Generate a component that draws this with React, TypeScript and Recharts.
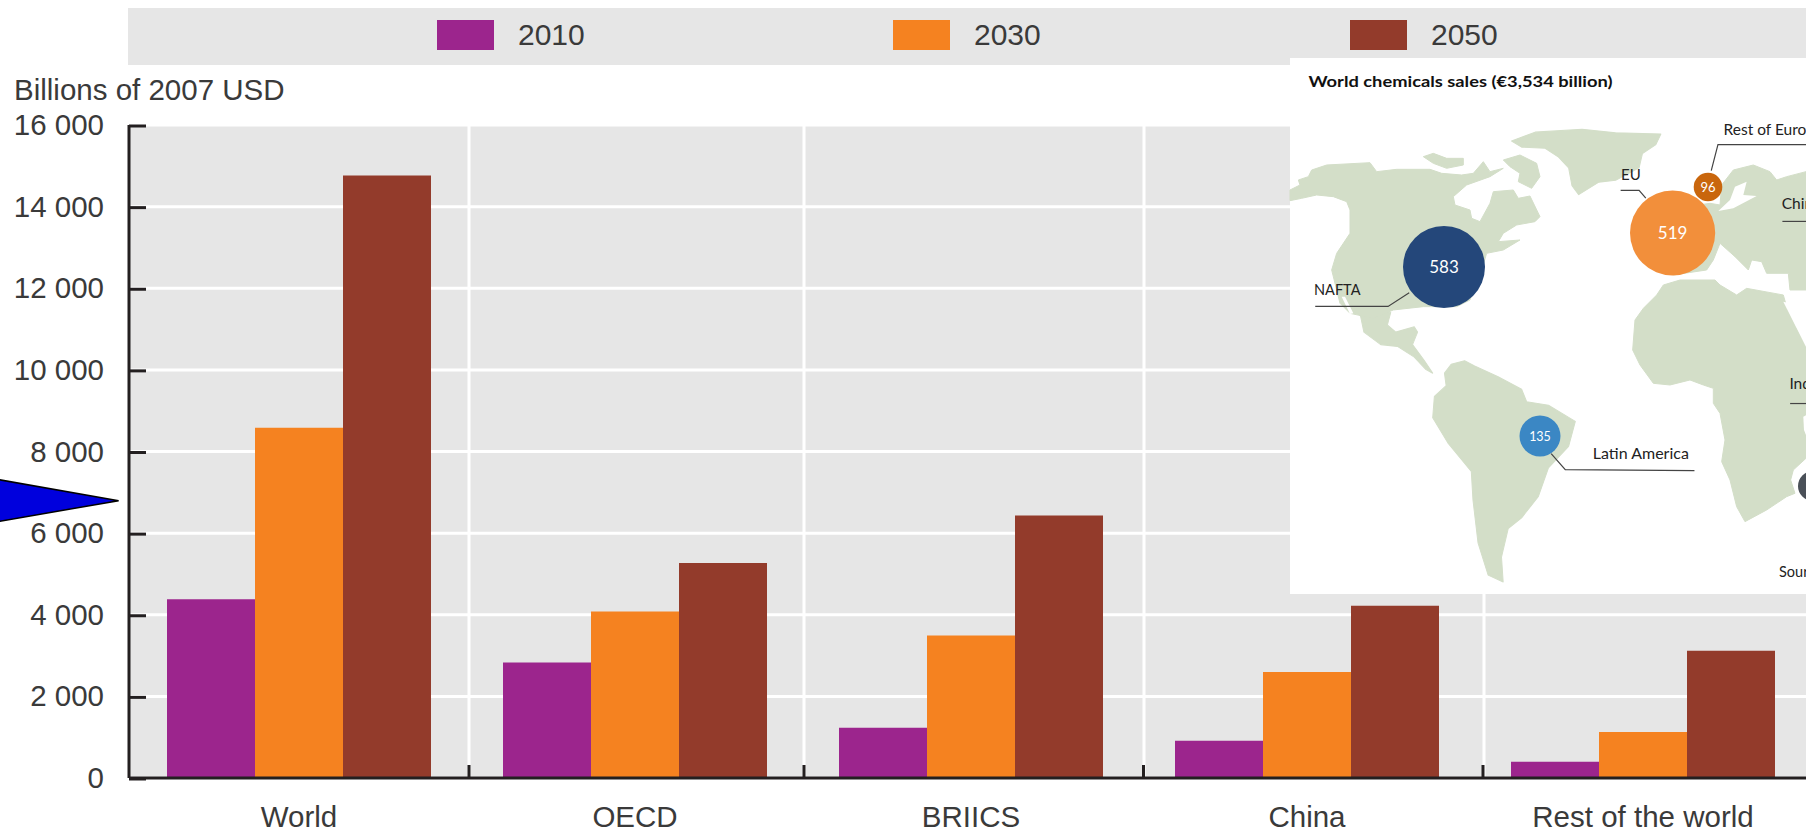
import React from "react";
import { BarChart, Bar, XAxis, YAxis, CartesianGrid, Legend } from "recharts";

const categories = ["World", "OECD", "BRIICS", "China", "Rest of the world"];
const values2010 = [4380, 2830, 1230, 915, 400];
const values2030 = [8580, 4080, 3490, 2600, 1130];
const values2050 = [14760, 5270, 6430, 4220, 3120];
const yTicks = [0, 2000, 4000, 6000, 8000, 10000, 12000, 14000, 16000];
const seriesNames = ["2010", "2030", "2050"];
const seriesColors = ["#9C258D", "#F58220", "#933B2B"];

const rows = categories.map((name, i) => ({
  name,
  "2010": values2010[i],
  "2030": values2030[i],
  "2050": values2050[i],
}));

// layout of the chart
const separators = [469, 804, 1144, 1484];
const separatorOffsets = [170, 169, 172.5, 176];
const legendLefts = [309, 765, 1222];
const font = "'Liberation Sans', Arial, sans-serif";
const inkColor = "#3A3A3A";

const fmt = (v: number) => (v === 0 ? "0" : String(v).replace(/(\d)(?=(\d{3})$)/, "$1 "));

const YTick = (p: any) => (
  <g>
    <line x1={p.x + 25} x2={p.x + 42} y1={p.y + 1} y2={p.y + 1} stroke="#231F20" strokeWidth={3} />
    <text x={p.x} y={p.y + 10} textAnchor="end" fontFamily={font} fontSize={29.5} fill={inkColor}>
      {fmt(p.payload.value)}
    </text>
  </g>
);

const XTick = (p: any) => {
  const off = separatorOffsets[p.index];
  return (
    <g>
      {off !== undefined && (
        <line x1={p.x + off} x2={p.x + off} y1={p.y - 13} y2={p.y} stroke="#231F20" strokeWidth={3} />
      )}
      <text x={p.x} y={p.y + 49} textAnchor="middle" fontFamily={font} fontSize={29.5} fill={inkColor}>
        {p.payload.value}
      </text>
    </g>
  );
};

const LegendBand = (p: any) => (
  <div style={{ position: "relative", width: 1700, height: 57, background: "#E6E6E6" }}>
    {(p.payload || []).map((e: any, i: number) => (
      <React.Fragment key={e.value}>
        <div
          style={{ position: "absolute", left: legendLefts[i], top: 12, width: 57, height: 30, background: e.color }}
        />
        <div
          style={{
            position: "absolute",
            left: legendLefts[i] + 81,
            top: 9,
            fontFamily: font,
            fontSize: 30,
            lineHeight: "36px",
            color: inkColor,
          }}
        >
          {e.value}
        </div>
      </React.Fragment>
    ))}
  </div>
);

// inset map: outlines traced on a few local grids, each placed on the page by a transform
const landColor = "#D3DEC8";
const mapGroups = [
  {
    transform: "translate(1280,50) scale(0.3356,0.3571)",
    land: [
      "200,690 260,720 330,735 320,770 345,790 400,775 410,790 395,825 430,870 455,905 435,895 400,860 350,830 300,825 250,790 240,745 215,720",
      "690,255 760,230 900,222 1000,232 1135,235 1120,265 1080,290 1070,330 1000,365 950,370 890,405 870,380 860,330 830,300 790,275 720,272",
      "490,905 510,880 550,870 580,885 650,915 720,950 735,985 800,995 880,1040 860,1110 800,1170 770,1250 720,1310 680,1340 660,1420 665,1490 620,1470 590,1380 575,1260 570,1180 500,1100 455,1030 460,970 495,940",
    ],
    water: [],
  },
  {
    transform: "translate(1290,110) scale(0.3333)",
    land: [
      "0,240 30,225 25,210 55,200 65,180 110,165 240,158 260,185 320,178 420,178 455,190 515,195 550,190 580,155 600,185 640,175 600,200 530,225 490,260 495,285 540,300 545,325 570,335 600,280 610,245 670,240 685,265 720,258 750,320 735,335 680,345 640,370 625,395 690,390 640,420 590,430 575,480 560,520 540,570 500,590 400,590 310,600 250,625 180,610 150,580 125,480 140,430 180,370 180,300 170,275 130,260 80,255 35,265 0,272",
      "640,150 690,135 740,160 750,200 725,235 685,215 690,190 660,170",
      "400,140 430,130 470,145 520,145 520,165 470,175 430,160",
    ],
    water: ["155,560 165,560 190,610 180,612"],
  },
  {
    transform: "translate(1620,280) scale(0.3333)",
    land: [
      "130,15 180,0 285,0 300,15 350,45 380,25 490,45 500,80 558,200 558,535 520,570 512,600 525,640 500,650 440,690 375,725 350,680 330,600 305,545 315,480 300,400 280,370 280,325 250,315 210,300 150,315 100,310 60,255 38,210 45,120 70,85 110,45",
    ],
    water: ["490,65 510,70 558,150 558,200", "550,410 560,405 560,470 552,450"],
  },
  {
    transform: "translate(1620,110) scale(0.3333)",
    land: [
      "558,185 558,540 510,540 505,490 440,490 425,455 395,450 385,480 345,440 300,400 280,450 260,480 160,495 100,400 200,290 270,280 300,285 305,225 340,180 400,165 450,185 470,210 500,200",
    ],
    water: ["345,230 380,215 370,255 410,258 340,295 295,303 330,270"],
  },
];
const leaders = [
  "105,718 322,718 385,680",
  "1015,393 1070,393 1090,415",
  "1285,338 1305,265 1568,265",
  "1497,480 1568,480",
  "1520,990 1568,990",
  "808,1130 850,1175 1235,1178",
];
const bubbles = [
  { x: 1444, y: 267, r: 41, color: "#24477A", label: "583", size: 17 },
  { x: 1672.6, y: 233, r: 42.6, color: "#F28F3B", label: "519", size: 17 },
  { x: 1708, y: 187, r: 14.3, color: "#C9660D", label: "96", size: 13 },
  { x: 1540, y: 436, r: 20.5, color: "#3B87C4", label: "135", size: 12.5 },
  { x: 1813, y: 486, r: 15, color: "#4A5058", label: "", size: 11 },
];
const mapLabels = [
  { x: 1314, y: 294.5, t: "NAFTA", s: 14.5 },
  { x: 1621, y: 180, t: "EU", s: 15 },
  { x: 1723.6, y: 135, t: "Rest of Europe", s: 15.5 },
  { x: 1781.7, y: 209, t: "China", s: 15.5 },
  { x: 1789.4, y: 389, t: "India", s: 15.5 },
  { x: 1592.8, y: 459, t: "Latin America", s: 16 },
  { x: 1779, y: 577, t: "Source", s: 14.5 },
];
const mapFont = "Lato, 'Open Sans', sans-serif";

const Overlay = () => (
  <svg width={1806} height={832} style={{ position: "absolute", left: 0, top: 0 }}>
    <text x={14} y={100} fontFamily={font} fontSize={29.5} fill={inkColor}>
      Billions of 2007 USD
    </text>
    <polygon points="-5,479 118.6,500.7 -5,522" fill="#0000DD" stroke="#000" strokeWidth={1.5} />
    <rect x={1290} y={58} width={516} height={536} fill="#fff" />
    {mapGroups.map((g, gi) => (
      <g key={gi} transform={g.transform}>
        {g.land.map((pts, i) => (
          <polygon key={i} points={pts} fill={landColor} stroke={landColor} strokeWidth={3} strokeLinejoin="round" />
        ))}
        {g.water.map((pts, i) => (
          <polygon key={i} points={pts} fill="#fff" />
        ))}
      </g>
    ))}
    <g transform={mapGroups[0].transform}>
      {leaders.map((pts, i) => (
        <polyline key={i} points={pts} fill="none" stroke="#444" strokeWidth={1.2} vectorEffect="non-scaling-stroke" />
      ))}
    </g>
    {bubbles.map((b) => (
      <g key={b.x}>
        <circle cx={b.x} cy={b.y} r={b.r} fill={b.color} />
        <text
          x={b.x}
          y={b.y + b.size * 0.36}
          textAnchor="middle"
          fontFamily={mapFont}
          fontSize={b.size}
          fill="#fff"
        >
          {b.label}
        </text>
      </g>
    ))}
    <text
      x={1308.5}
      y={86.5}
      fontFamily={mapFont}
      fontWeight={700}
      fontSize={15.5}
      fill="#111"
      textLength={304}
      lengthAdjust="spacingAndGlyphs"
    >
      World chemicals sales (€3,534 billion)
    </text>
    {mapLabels.map((l) => (
      <text key={l.t} x={l.x} y={l.y} fontFamily={mapFont} fontSize={l.s} fill="#222">
        {l.t}
      </text>
    ))}
  </svg>
);

export default function App() {
  return (
    <div
      style={{ position: "absolute", left: 0, top: 0, width: 1806, height: 832, overflow: "hidden", background: "#fff" }}
    >
      <BarChart
        width={1811}
        height={832}
        data={rows}
        margin={{ top: 125, right: 0, bottom: 0, left: 0 }}
        barCategoryGap={0}
        barGap={0}
        barSize={88}
      >
        <CartesianGrid
          fill="#E6E6E6"
          stroke="#fff"
          strokeWidth={3}
          verticalCoordinatesGenerator={() => separators}
        />
        <XAxis
          dataKey="name"
          type="category"
          interval={0}
          height={54}
          padding={{ left: 2, right: 0 }}
          tickSize={0}
          tickMargin={0}
          tick={<XTick />}
          tickLine={false}
          axisLine={{ stroke: "#231F20", strokeWidth: 3 }}
        />
        <YAxis
          width={129}
          domain={[0, 16000]}
          ticks={yTicks}
          interval={0}
          tickSize={0}
          tickMargin={25}
          tick={<YTick />}
          tickLine={false}
          axisLine={{ stroke: "#231F20", strokeWidth: 3 }}
        />
        <Legend
          layout="horizontal"
          verticalAlign="middle"
          align="center"
          content={<LegendBand />}
          wrapperStyle={{ position: "absolute", left: 128, top: 8, width: 1700, height: 57, margin: 0 }}
        />
        {seriesNames.map((s, i) => (
          <Bar key={s} dataKey={s} name={s} fill={seriesColors[i]} isAnimationActive={false} />
        ))}
      </BarChart>
      <Overlay />
    </div>
  );
}
